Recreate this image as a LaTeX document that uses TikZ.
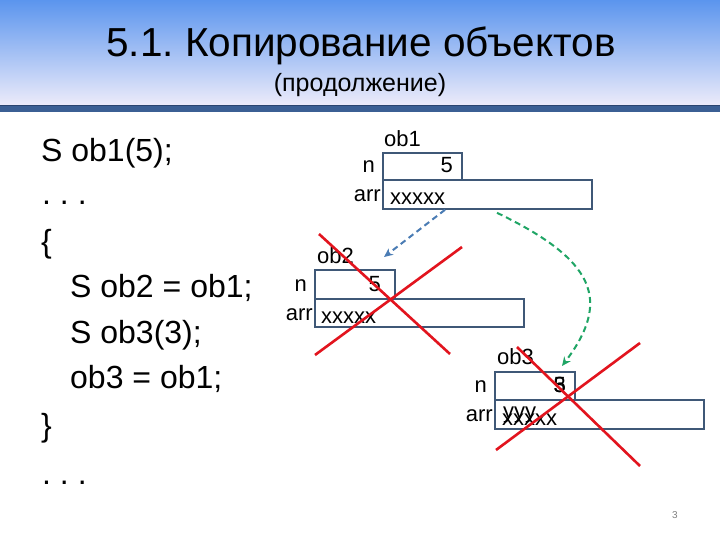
\documentclass[tikz,border=0pt]{standalone}
\usepackage{fontspec}
\setmainfont{Liberation Sans}
\usetikzlibrary{arrows.meta,calc}
\frenchspacing
\definecolor{hdrtop}{HTML}{5B95EE}
\definecolor{hdrbot}{HTML}{ECEBFA}
\definecolor{barcol}{HTML}{3B5F94}
\definecolor{bardark}{HTML}{2A4470}
\definecolor{boxcol}{HTML}{3F5877}
\definecolor{crosscol}{HTML}{E2141E}
\definecolor{bluearr}{HTML}{4A7CB4}
\definecolor{greenarr}{HTML}{1FA565}
\tikzset{
  code/.style={anchor=base west,inner sep=0pt,font=\fontsize{32}{38}\selectfont},
  fld/.style={draw=boxcol,line width=1.8pt,anchor=north west,inner sep=0pt},
  lbl/.style={inner sep=0pt,font=\fontsize{22}{26}\selectfont},
  cross/.style={draw=crosscol,line width=2.6pt},
  ptr/.style={line width=2pt,dash pattern=on 6pt off 4pt,-{Stealth[length=9pt,width=8pt]}}
}
\begin{document}
\frenchspacing
\begin{tikzpicture}[x=1pt,y=-1pt]
\useasboundingbox (0,0) rectangle (720,540);
\fill[white] (0,0) rectangle (720,540);
% header
\shade[top color=hdrtop,bottom color=hdrbot] (0,0) rectangle (720,105);
\fill[barcol] (0,105) rectangle (720,112);
\fill[bardark] (0,105) rectangle (720,106.5);
\node[inner sep=0pt,anchor=base,font=\fontsize{40.5}{48}\selectfont] (title) at (361,57) {5.1. Копирование объектов};
\node[inner sep=0pt,anchor=base,font=\fontsize{25}{30}\selectfont] (subtitle) at (360,92) {(продолжение)};
% code
\node[code] (c1) at (41,162) {S ob1(5);};
\node[code] (c2) at (42,205) {. . .};
\node[code] (c3) at (41,252) {\{};
\node[code] (c4) at (70,297) {S ob2 = ob1;};
\node[code] (c5) at (70,343) {S ob3(3);};
\node[code] (c6) at (70,388) {ob3 = ob1;};
\node[code] (c7) at (41,436) {\}};
\node[code] (c8) at (42,484) {. . .};
% ob1
\node[fld,minimum width=79pt,minimum height=27pt] (ob1n) at (382,152) {};
\node[fld,minimum width=209pt,minimum height=29pt] (ob1arr) at (382,179) {};
\node[lbl,anchor=base west] (ob1l) at (384,147) {ob1};
\node[lbl,anchor=base east] (ob1nl) at (375,173) {n};
\node[lbl,anchor=base east] (ob1al) at (381,202) {arr};
\node[lbl,anchor=base east] (ob1nv) at (453,173) {5};
\node[lbl,anchor=base west] (ob1av) at (390,205) {xxxxx};
% ob2
\node[fld,minimum width=80pt,minimum height=29pt] (ob2n) at (314,269) {};
\node[fld,minimum width=209pt,minimum height=28pt] (ob2arr) at (314,298) {};
\node[lbl,anchor=base west] (ob2l) at (317,263) {ob2};
\node[lbl,anchor=base east] (ob2nl) at (307,291) {n};
\node[lbl,anchor=base east] (ob2al) at (313,320) {arr};
\node[lbl,anchor=base east] (ob2nv) at (381,291) {5};
\node[lbl,anchor=base west] (ob2av) at (321,323) {xxxxx};
% ob3
\node[fld,minimum width=80pt,minimum height=28pt] (ob3n) at (494,371) {};
\node[fld,minimum width=209pt,minimum height=29pt] (ob3arr) at (494,399) {};
\node[lbl,anchor=base west] (ob3l) at (497,364) {ob3};
\node[lbl,anchor=base east] (ob3nl) at (487,392) {n};
\node[lbl,anchor=base east] (ob3al) at (493,421) {arr};
\node[lbl,anchor=base east] (ob3nv) at (566,392) {5};
\node[lbl,anchor=base east] (ob3nv2) at (566,392) {3};
\node[lbl,anchor=base west] (ob3av) at (502,425) {xxxxx};
\node[lbl,anchor=base west] (ob3av2) at (503,418) {yyy};
% pointers
\coordinate (bs) at ([xshift=63pt]ob1arr.south west);
\coordinate (be) at (384,257);
\draw[ptr,bluearr] (bs) -- (be);
\coordinate (gs) at ([xshift=115pt,yshift=-3pt]ob1arr.south west);
\coordinate (ge) at (562,366);
\draw[ptr,greenarr] (gs) .. controls (595,260) and (612,300) .. (ge);
% crosses
\coordinate (x1a) at (319,234); \coordinate (x1b) at (450,354);
\coordinate (x1c) at (462,247); \coordinate (x1d) at (315,355);
\draw[cross] (x1a) -- (x1b);
\draw[cross] (x1c) -- (x1d);
\coordinate (x2a) at (517,347); \coordinate (x2b) at (640,466);
\coordinate (x2c) at (640,343); \coordinate (x2d) at (496,450);
\draw[cross] (x2a) -- (x2b);
\draw[cross] (x2c) -- (x2d);
% page number
\node[inner sep=0pt,font=\fontsize{10}{12}\selectfont,text=gray] (pg) at (675,515) {3};
\end{tikzpicture}
\end{document}
